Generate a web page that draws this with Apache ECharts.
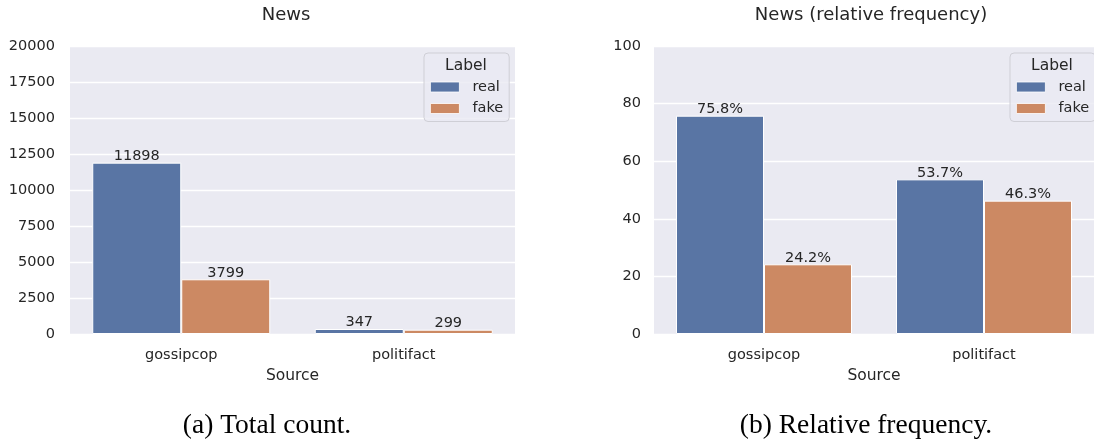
<!DOCTYPE html>
<html>
<head>
<meta charset="utf-8">
<script src="https://cdn.jsdelivr.net/npm/echarts@6/dist/echarts.min.js"></script>
<style>
  html, body { margin: 0; padding: 0; background: #ffffff; }
  #chart { width: 1094px; height: 441px; }
</style>
</head>
<body>
<div id="chart"></div>
<script>
// News articles per source, split by label
const sources = ['gossipcop', 'politifact'];
const labels = ['real', 'fake'];
const realCount = [11898, 347];
const fakeCount = [3799, 299];
// Share of each label within a source (percent)
const realPct = [75.8, 53.7];
const fakePct = [24.2, 46.3];

const countAxis = { min: 0, max: 20000, interval: 2500 };
const pctAxis = { min: 0, max: 100, interval: 20 };

const titles = ['News', 'News (relative frequency)'];
const captions = ['(a) Total count.', '(b) Relative frequency.'];

const INK = '#262626';
const PANEL = '#EAEAF2';
const BLUE = '#5975A4';
const ORANGE = '#CC8963';
const SANS = 'DejaVu Sans';

const chart = echarts.init(document.getElementById('chart'), null, { renderer: 'canvas' });

function xAxisFor(gridIndex) {
  return {
    type: 'category',
    gridIndex,
    data: sources,
    axisLine: { show: false },
    axisTick: { show: false },
    axisLabel: { color: INK, fontFamily: SANS, fontSize: 14.5, margin: 14 },
    name: 'Source',
    nameLocation: 'middle',
    nameGap: 31,
    nameTextStyle: { color: INK, fontFamily: SANS, fontSize: 15.5 },
    splitLine: { show: false }
  };
}

function yAxisFor(gridIndex, scale, margin) {
  return {
    type: 'value',
    gridIndex,
    min: scale.min,
    max: scale.max,
    interval: scale.interval,
    axisLine: { show: false },
    axisTick: { show: false },
    axisLabel: { color: INK, fontFamily: SANS, fontSize: 14.5, margin, formatter: v => String(v) },
    splitLine: { show: true, lineStyle: { color: '#ffffff', width: 1.3 } }
  };
}

function barSeries(name, values, axisIndex, color, fmt) {
  return {
    type: 'bar',
    name,
    xAxisIndex: axisIndex,
    yAxisIndex: axisIndex,
    data: values,
    barWidth: '40%',
    barGap: '0%',
    itemStyle: { color, borderColor: '#ffffff', borderWidth: 1 },
    label: {
      show: true,
      position: 'top',
      distance: -1,
      color: INK,
      fontFamily: SANS,
      fontSize: 14.5,
      formatter: fmt
    },
    emphasis: { disabled: true },
    animation: false
  };
}

function legendAt(left) {
  return {
    left,
    top: 53,
    orient: 'vertical',
    data: labels,
    icon: 'rect',
    itemWidth: 29,
    itemHeight: 10,
    itemGap: 5.5,
    padding: [26, 6, 5, 6],
    backgroundColor: 'rgba(234,234,242,0.8)',
    borderColor: '#cfcfd6',
    borderWidth: 1,
    borderRadius: 4,
    selectedMode: false,
    itemStyle: { borderColor: '#ffffff', borderWidth: 0.8 },
    textStyle: { color: INK, fontFamily: SANS, fontSize: 14.5, lineHeight: 16, padding: [0, 0, 0, 8] }
  };
}

const countFmt = p => String(p.value);
const pctFmt = p => p.value.toFixed(1) + '%';

const option = {
  backgroundColor: '#ffffff',
  animation: false,
  title: [
    { text: titles[0], left: 286, top: 6, textAlign: 'center', padding: 0,
      textStyle: { color: INK, fontFamily: SANS, fontSize: 18, fontWeight: 'normal' } },
    { text: titles[1], left: 871, top: 6, textAlign: 'center', padding: 0,
      textStyle: { color: INK, fontFamily: SANS, fontSize: 18, fontWeight: 'normal' } }
  ],
  grid: [
    { left: 70, top: 46, width: 445, height: 288, show: true, backgroundColor: PANEL, borderWidth: 0 },
    { left: 654, top: 46, width: 448, height: 288, show: true, backgroundColor: PANEL, borderWidth: 0 }
  ],
  xAxis: [xAxisFor(0), xAxisFor(1)],
  yAxis: [yAxisFor(0, countAxis, 15), yAxisFor(1, pctAxis, 13)],
  legend: [legendAt(424), legendAt(1010)],
  series: [
    barSeries(labels[0], realCount, 0, BLUE, countFmt),
    barSeries(labels[1], fakeCount, 0, ORANGE, countFmt),
    barSeries(labels[0], realPct, 1, BLUE, pctFmt),
    barSeries(labels[1], fakePct, 1, ORANGE, pctFmt)
  ],
  graphic: [
    { type: 'text', left: 445, top: 58,
      style: { text: 'Label', fill: INK, font: '15.5px "DejaVu Sans"' }, z: 100 },
    { type: 'text', left: 1031, top: 58,
      style: { text: 'Label', fill: INK, font: '15.5px "DejaVu Sans"' }, z: 100 },
    { type: 'text', x: 267, y: 426,
      style: { text: captions[0], fill: '#000000', font: '27.5px "Liberation Serif"',
               textAlign: 'center', textVerticalAlign: 'middle' } },
    { type: 'text', x: 866, y: 426,
      style: { text: captions[1], fill: '#000000', font: '27.5px "Liberation Serif"',
               textAlign: 'center', textVerticalAlign: 'middle' } }
  ]
};

chart.setOption(option);
</script>
</body>
</html>
